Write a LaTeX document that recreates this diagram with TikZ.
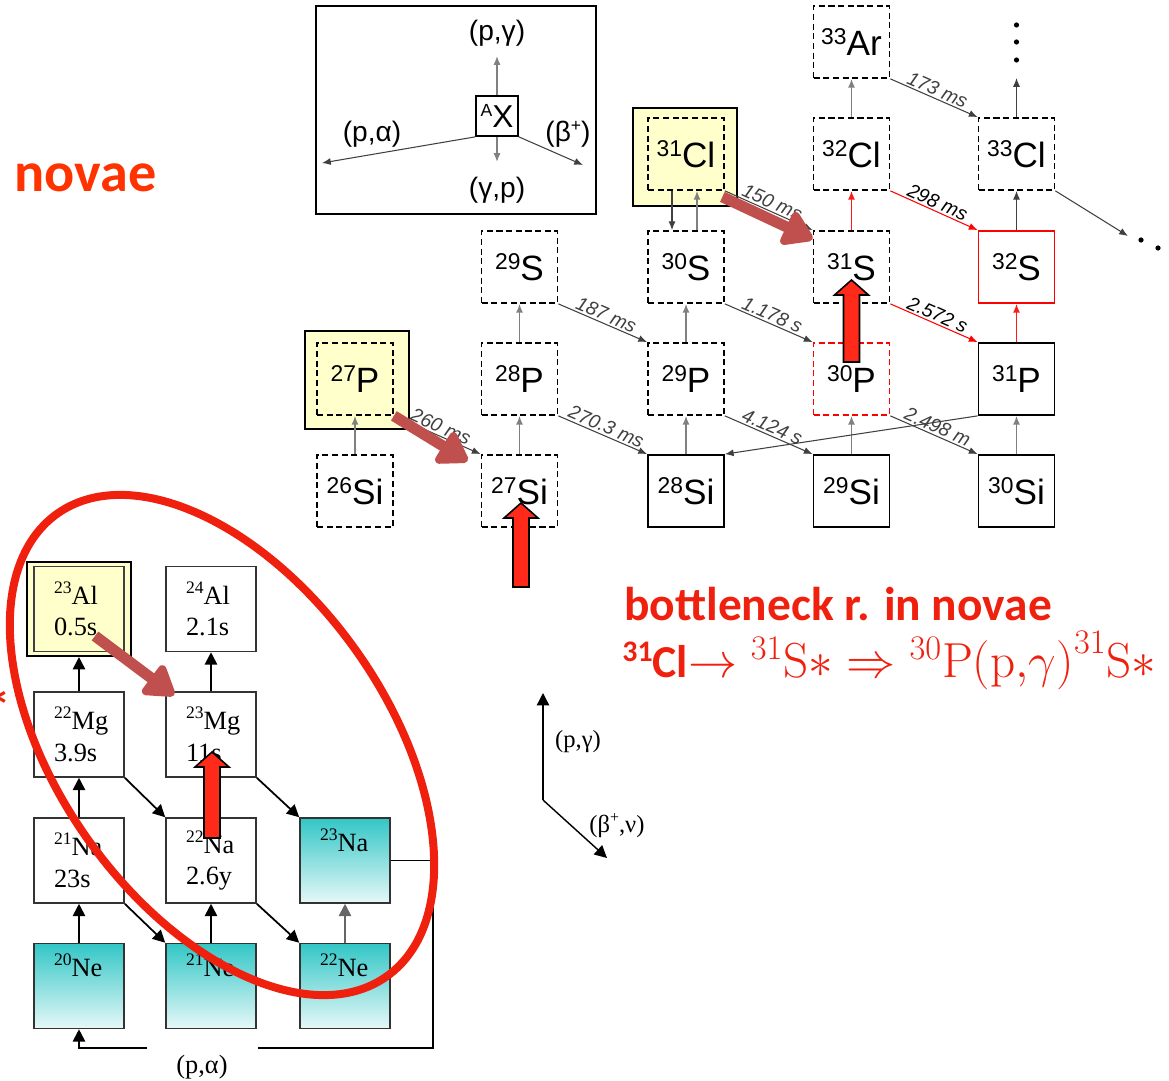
\RequirePackage{fix-cm}
\documentclass[tikz,border=0pt]{standalone}
\usepackage{fontspec}
\usepackage{amsmath}
\usepackage{tikz}
\usetikzlibrary{arrows.meta}
\newfontfamily\helv{Liberation Sans}
\newfontfamily\tnr{Liberation Serif}
\newfontfamily\carl{Carlito}
\definecolor{hlyellow}{HTML}{FFFFCC}
\definecolor{brownred}{HTML}{C0504D}
\definecolor{novared}{HTML}{F0200F}
\definecolor{fatred}{HTML}{FF2A1A}
\definecolor{orangered}{HTML}{FF3300}
\definecolor{tealtop}{HTML}{33C6C6}
\definecolor{tealbot}{HTML}{E6F8F8}
\newcommand{\hsup}[1]{\raisebox{0.3em}{\fontsize{13}{13}\selectfont #1}}
\newcommand{\lsup}[1]{\raisebox{0.42em}{\fontsize{10}{10}\selectfont #1}}
\newcommand{\fatup}[3]{%
  \filldraw[fill=fatred, draw=black, line width=0.9pt]
    (#1-8,#2) -- (#1-8,#3+15) -- (#1-17,#3+15) -- (#1,#3) -- (#1+17,#3+15)
    -- (#1+8,#3+15) -- (#1+8,#2) -- cycle;}
\tikzset{
  nuc/.style={draw, dashed, dash pattern=on 3.5pt off 2pt, line width=1pt,
    minimum width=1.52cm, minimum height=1.44cm, inner sep=0pt,
    font=\helv\fontsize{20}{20}\selectfont},
  stab/.style={nuc, solid},
  hlframe/.style={draw, line width=1.2pt, fill=hlyellow,
    minimum width=2.08cm, minimum height=1.96cm},
  capt/.style={-{Latex[length=5pt,width=4pt]}, black!50, line width=0.8pt},
  decay/.style={-{Latex[length=5pt,width=4pt]}, black!75, line width=0.6pt},
  thalf/.style={font=\helv\itshape\fontsize{11}{11}\selectfont, sloped, above,
    inner sep=1pt, pos=0.5},
  bigarr/.style={brownred, line width=0.22cm, line join=round,
    -{Triangle[length=0.66cm,width=0.8cm,round]}},
  lowbox/.style={draw, line width=0.9pt, black!80, text=black,
    minimum width=1.8cm, minimum height=1.7cm, inner sep=0pt,
    text width=1.0cm, align=left, font=\tnr\fontsize{15}{18}\selectfont},
  teal/.style={lowbox, top color=tealtop, bottom color=tealbot},
  lowarr/.style={-{Triangle[length=7pt,width=7pt]}, line width=1pt}
}
\begin{document}
\begin{tikzpicture}[x=0.02cm, y=-0.02cm]
  \useasboundingbox (0,0) rectangle (1169,1081);
  \clip (0,0) rectangle (1169,1081);

  % Légende des réactions
  \draw[line width=1pt] (316,6) rectangle (596,214);
  \node[draw, line width=1pt, minimum width=0.84cm, minimum height=0.8cm, inner sep=0pt,
    font=\helv\fontsize{18}{18}\selectfont] (ax) at (497,116)
    {\raisebox{0.35em}{\fontsize{10}{10}\selectfont A}X};
  \coordinate (lgup) at (497,56);
  \coordinate (lgdn) at (497,162);
  \coordinate (lgl) at (322,163);
  \coordinate (lgr) at (583,165);
  \draw[capt] (ax.north) -- (lgup);
  \draw[capt] (ax.south) -- (lgdn);
  \draw[decay] (ax.south west) -- (lgl);
  \draw[decay] (ax.south east) -- (lgr);
  \begin{scope}[font=\helv\fontsize{16}{16}\selectfont]
    \node (lpg) at (497,33) {(p,γ)};
    \node (lgp) at (497,190) {(γ,p)};
    \node (lpa) at (372,134) {(p,α)};
    \node (lbp) at (568,134) {(β\raisebox{0.35em}{\fontsize{10}{10}\selectfont +})};
  \end{scope}

  % Cadres jaunes
  \node[hlframe] (p27f) at (357,380) {};
  \node[hlframe] (cl31f) at (685,157) {};

  % Noyaux (carte du haut)
  \node[nuc] (si26) at (355,491) {\hsup{26}Si};
  \node[nuc] (p27) at (355,379) {\hsup{27}P};
  \node[nuc] (si27) at (519.5,491) {\hsup{27}Si};
  \node[nuc] (p28) at (519.5,379) {\hsup{28}P};
  \node[nuc] (s29) at (519.5,267) {\hsup{29}S};
  \node[stab] (si28) at (686,491) {\hsup{28}Si};
  \node[nuc] (p29) at (686,379) {\hsup{29}P};
  \node[nuc] (s30) at (686,267) {\hsup{30}S};
  \node[nuc] (cl31) at (686,154) {\hsup{31}Cl};
  \node[stab] (si29) at (851.5,491) {\hsup{29}Si};
  \node[nuc, red] (p30) at (851.5,379) {\textcolor{black}{\hsup{30}P}};
  \node[nuc] (s31) at (851.5,267) {\hsup{31}S};
  \node[nuc] (cl32) at (851.5,154) {\hsup{32}Cl};
  \node[nuc] (ar33) at (851.5,42) {\hsup{33}Ar};
  \node[stab] (si30) at (1016.5,491) {\hsup{30}Si};
  \node[stab] (p31) at (1016.5,379) {\hsup{31}P};
  \node[stab, red] (s32) at (1016.5,267) {\textcolor{black}{\hsup{32}S}};
  \node[nuc] (cl33) at (1016.5,154) {\hsup{33}Cl};
  \coordinate (upend) at (1016.5,78);
  \coordinate (offr) at (1128,236);

  % Captures (p,gamma)
  \draw[capt] (si26) -- (p27);
  \draw[capt] (si27) -- (p28);
  \draw[capt] (p28) -- (s29);
  \draw[capt] (si28) -- (p29);
  \draw[capt] (p29) -- (s30);
  \draw[capt] (si29) -- (p30);
  \draw[capt] ([xshift=0.22cm]s30.north) -- ([xshift=0.22cm]cl31.south);
  \draw[decay] ([xshift=-0.28cm]cl31.south) -- ([xshift=-0.28cm]s30.north);
  \draw[capt, red!90] (s31) -- (cl32);
  \draw[capt] (cl32) -- (ar33);
  \draw[capt] (si30) -- (p31);
  \draw[capt, red!90] (p31) -- (s32);
  \draw[decay] (s32) -- (cl33);
  \draw[decay] (cl33) -- (upend);
  \draw[decay] (p31.south west) -- (si28.north east);

  % Désintégrations beta+
  \draw[decay] (p27.south east) -- (si27.north west) node[thalf] {260 ms};
  \draw[decay] (p28.south east) -- (si28.north west) node[thalf] {270.3 ms};
  \draw[decay] (s29.south east) -- (p29.north west) node[thalf] {187 ms};
  \draw[decay] (p29.south east) -- (si29.north west) node[thalf] {4.124 s};
  \draw[decay] (s30.south east) -- (p30.north west) node[thalf] {1.178 s};
  \draw[decay] (cl31.south east) -- (s31.north west) node[thalf] {150 ms};
  \draw[decay] (p30.south east) -- (si30.north west) node[thalf] {2.498 m};
  \draw[decay, red] (s31.south east) -- (p31.north west) node[thalf, text=black] {2.572 s};
  \draw[decay, red] (cl32.south east) -- (s32.north west) node[thalf, text=black] {298 ms};
  \draw[decay] (ar33.south east) -- (cl33.north west) node[thalf] {173 ms};
  \draw[decay] (cl33.south east) -- (offr);
  \foreach \px/\py in {1016.5/25, 1016.5/42, 1016.5/60, 1141/240, 1158/248}
    \fill (\px,\py) circle (2.6);

  % Flèches brunes
  \draw[bigarr] (p27.south east) -- ([xshift=-0.26cm,yshift=-0.14cm]si27.north west);
  \draw[bigarr] ([xshift=-0.05cm,yshift=-0.12cm]cl31.south east) -- ([yshift=-0.18cm]s31.north west);

  % Carte du bas (Ne-Na-Mg-Al)
  \node[hlframe, minimum width=2.08cm, minimum height=1.88cm] (al23f) at (79,609) {};
  \node[lowbox, fill=hlyellow, draw=black!75] (al23) at (79,609) {\lsup{23}Al\\0.5s};
  \node[lowbox] (al24) at (211,609) {\lsup{24}Al\\2.1s};
  \node[lowbox] (mg22) at (79,734.5) {\lsup{22}Mg\\3.9s};
  \node[lowbox] (mg23) at (211,734.5) {\lsup{23}Mg\\11s};
  \node[lowbox] (na21) at (79,860.5) {\lsup{21}Na\\23s};
  \node[lowbox] (na22) at (211,860.5) {\lsup{22}Na\\2.6y};
  \node[teal] (na23) at (345,860.5) {\lsup{23}Na\\\strut};
  \node[teal] (ne20) at (79,986) {\lsup{20}Ne\\\strut};
  \node[teal] (ne21) at (211,986) {\lsup{21}Ne\\\strut};
  \node[teal] (ne22) at (345,986) {\lsup{22}Ne\\\strut};

  \draw[lowarr] (mg22) -- (al23f);
  \draw[lowarr] (mg23) -- (al24);
  \draw[lowarr] (na21) -- (mg22);
  \draw[lowarr] (ne20) -- (na21);
  \draw[lowarr] (ne21) -- (na22);
  \draw[lowarr, black!60] (ne22) -- (na23);
  \draw[lowarr] (mg22.south east) -- (na22.north west);
  \draw[lowarr] (mg23.south east) -- (na23.north west);
  \draw[lowarr] (na21.south east) -- (ne21.north west);
  \draw[lowarr] (na22.south east) -- (ne22.north west);

  % Boucle (p,alpha)
  \coordinate (lp1) at (433,860.5);
  \coordinate (lp2) at (433,1048);
  \coordinate (lp3) at (258,1048);
  \coordinate (lp4) at (147,1048);
  \coordinate (lp5) at (79,1048);
  \draw[line width=1pt] (na23.east) -- (lp1) -- (lp2) -- (lp3);
  \draw[lowarr] (lp4) -- (lp5) -- (ne20.south);
  \node[font=\tnr\fontsize{15}{15}\selectfont] (lpa2) at (202,1067) {(p,α)};

  \draw[bigarr] ([xshift=0.32cm,yshift=-0.54cm]al23.center) -- ([xshift=0.18cm,yshift=-0.08cm]mg23.north west);

  % Ellipse rouge
  \draw[novared, line width=0.16cm, rotate around={-54.5:(222,745)}]
    (222,745) ellipse [x radius=284, y radius=164];

  % Flèches rouges épaisses
  \fatup{521}{587}{503}
  \fatup{851.5}{362}{280}
  \fatup{212}{838}{752}

  % Petits axes
  \coordinate (o) at (543,800);
  \coordinate (opg) at (543,693);
  \coordinate (obn) at (607,858);
  \draw[lowarr, line width=0.8pt] (o) -- (opg);
  \draw[lowarr, line width=0.8pt] (o) -- (obn);
  \node[font=\tnr\fontsize{14}{14}\selectfont] (axpg) at (578,742) {(p,γ)};
  \node[font=\tnr\fontsize{14}{14}\selectfont] (axbn) at (617,826)
    {(β\raisebox{0.4em}{\fontsize{9}{9}\selectfont +},ν)};

  % Textes rouges
  \node[font=\carl\bfseries\fontsize{32}{32}\selectfont, text=orangered, anchor=west] (nov) at (8,178) {novae};
  \node[font=\carl\bfseries\fontsize{27}{27}\selectfont, text=novared, anchor=base west] (bott) at (618,620)
    {bottleneck r. in novae};
  \node[text=novared, anchor=base west, inner sep=0pt] (form) at (622,677)
    {{\carl\bfseries\fontsize{26}{26}\selectfont\raisebox{0.35em}{\fontsize{17}{17}\selectfont 31}Cl}%
     {\fontsize{28}{32}\selectfont$\rightarrow{}^{31}\mathrm{S}{\ast}\Rightarrow{}^{30}\mathrm{P(p,}\gamma\mathrm{)}^{31}\mathrm{S}{\ast}$}};
  \node[font=\carl\bfseries\fontsize{32}{32}\selectfont, text=novared, inner sep=0pt] (star) at (-2,708) {*};
\end{tikzpicture}
\end{document}
